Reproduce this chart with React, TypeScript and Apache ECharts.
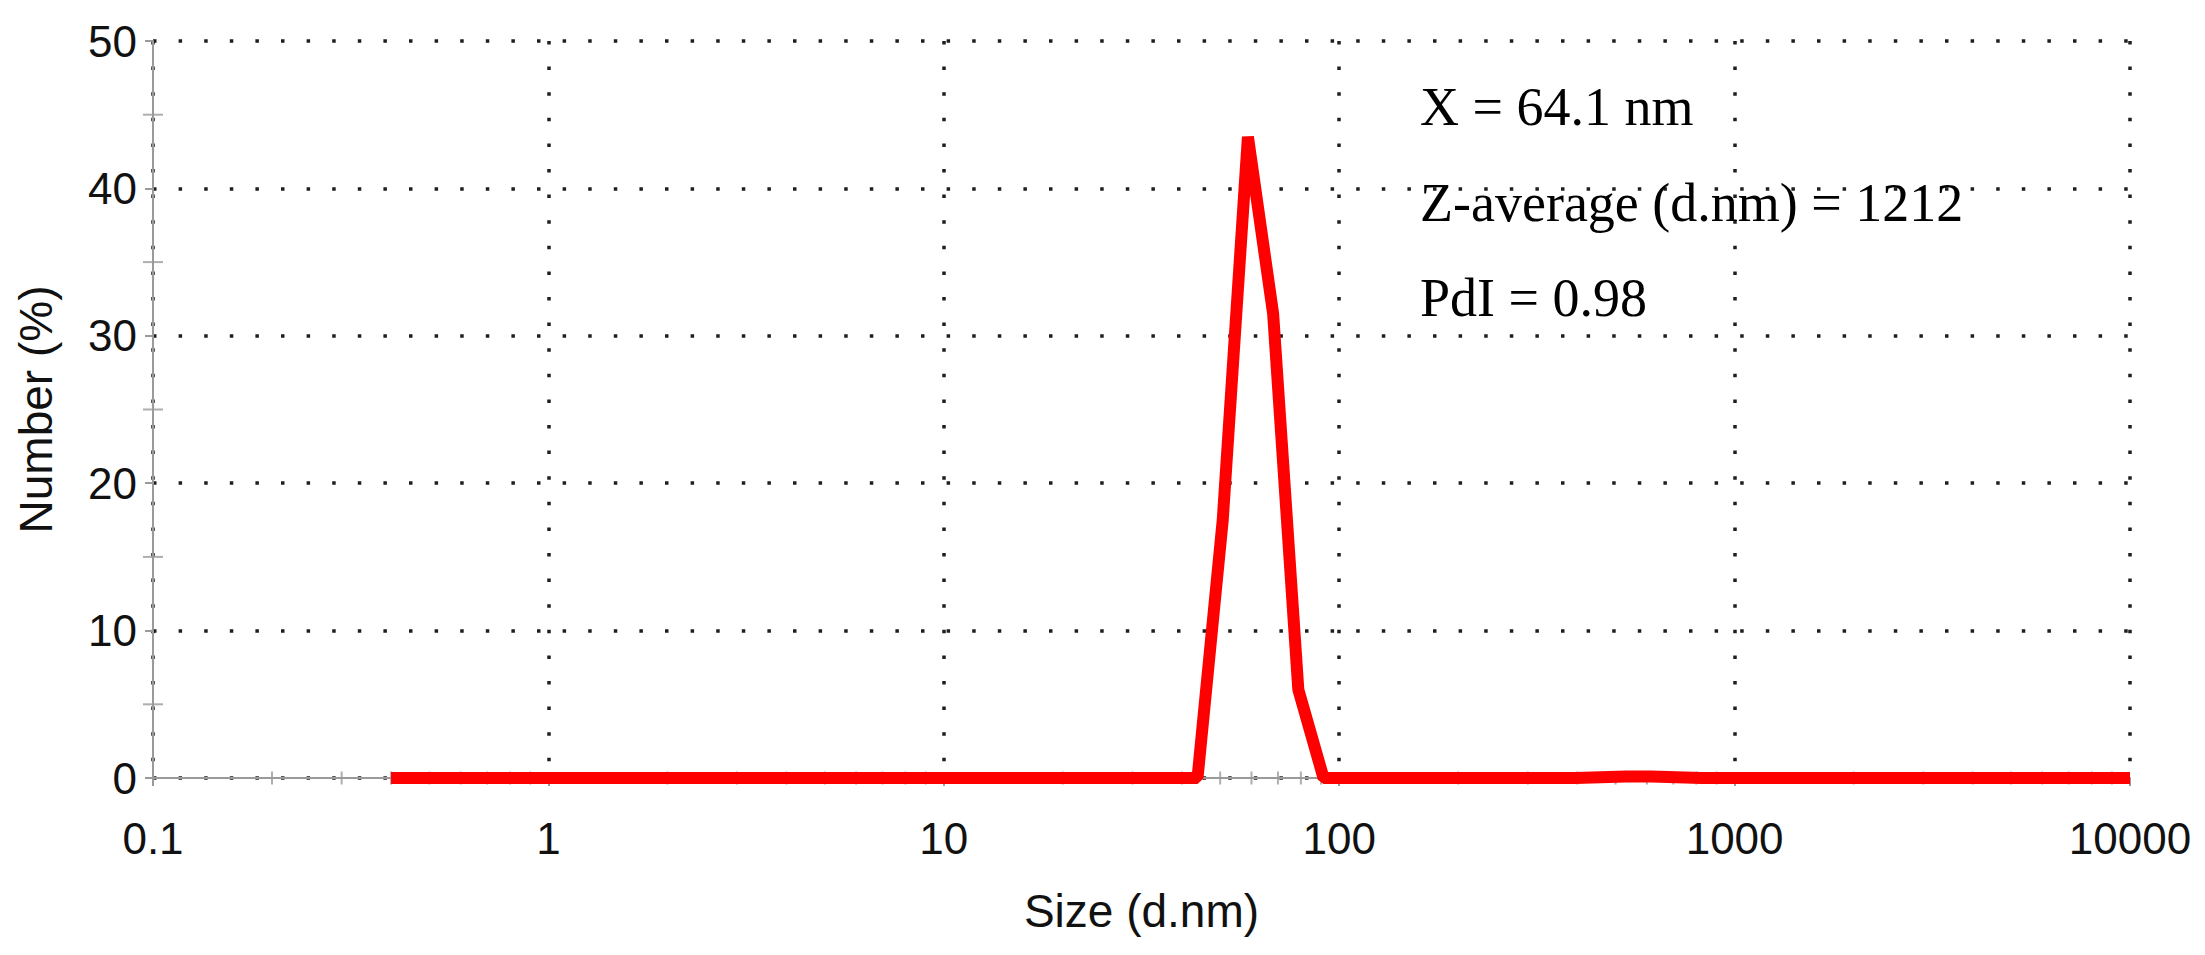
import React, { useEffect, useRef } from "react";
import * as echarts from "echarts";

// Size bins (d.nm) of the distribution
const SIZES = [
  0.4, 0.4632, 0.5365, 0.6213, 0.7195, 0.8332, 0.9649, 1.117, 1.294, 1.499,
  1.736, 2.01, 2.328, 2.696, 3.122, 3.615, 4.187, 4.849, 5.615, 6.503,
  7.531, 8.721, 10.1, 11.7, 13.54, 15.69, 18.17, 21.04, 24.36, 28.21,
  32.67, 37.84, 43.82, 50.75, 58.77, 68.06, 78.82, 91.28, 105.7, 122.4,
  141.8, 164.2, 190.1, 220.2, 255.0, 295.3, 342.0, 396.1, 458.7, 531.2,
  615.1, 712.4, 825.0, 955.4, 1106, 1281, 1484, 1718, 1990, 2305,
  2669, 3091, 3580, 4145, 4801, 5560, 6439, 7456, 8635, 10000,
];

// Number (%) for each bin
const NUMBERS = [
  0, 0, 0, 0, 0, 0, 0, 0, 0, 0,
  0, 0, 0, 0, 0, 0, 0, 0, 0, 0,
  0, 0, 0, 0, 0, 0, 0, 0, 0, 0,
  0, 0, 0, 17.5, 43.5, 31.5, 6, 0, 0, 0,
  0, 0, 0, 0, 0, 0, 0, 0, 0.05, 0.1,
  0.1, 0.05, 0, 0, 0, 0, 0, 0, 0, 0,
  0, 0, 0, 0, 0, 0, 0, 0, 0, 0,
];

// Minor tick positions
const X_MINOR = [
  0.2, 0.3, 0.4, 0.5, 0.6, 0.7, 0.8, 0.9,
  2, 3, 4, 5, 6, 7, 8, 9,
  20, 30, 40, 50, 60, 70, 80, 90,
  200, 300, 400, 500, 600, 700, 800, 900,
  2000, 3000, 4000, 5000, 6000, 7000, 8000, 9000,
];
const Y_MINOR = [5, 15, 25, 35, 45];

const NOTES = ["X = 64.1 nm", "Z-average (d.nm) = 1212", "PdI = 0.98"];

const X_TITLE = "Size (d.nm)";
const Y_TITLE = "Number (%)";

export default function App() {
  const ref = useRef<HTMLDivElement>(null);

  useEffect(() => {
    if (!ref.current) return;
    const chart = echarts.init(ref.current, null, { renderer: "svg" });
    const axisGray = "#9a9a9a";
    const dotted = { color: "#1e1e1e", width: 3.5, type: [3.5, 22.1] as any };
    const sans = "Liberation Sans";

    chart.setOption({
      animation: false,
      backgroundColor: "#ffffff",
      grid: { left: 153, right: 75, top: 41, bottom: 177 },
      xAxis: {
        type: "log",
        logBase: 10,
        min: 0.1,
        max: 10000,
        name: X_TITLE,
        nameLocation: "middle",
        nameGap: 110,
        nameTextStyle: { fontFamily: sans, fontSize: 46, color: "#111" },
        axisLine: { show: true, lineStyle: { color: axisGray, width: 2 } },
        axisTick: { show: true, length: 8, lineStyle: { color: axisGray, width: 2 } },
        minorTick: { show: false },
        axisLabel: {
          fontFamily: sans,
          fontSize: 44,
          color: "#111",
          margin: 38,
          formatter: (v: number) => String(+Number(v).toPrecision(6)),
        },
        splitLine: { show: true, lineStyle: dotted },
      },
      yAxis: {
        type: "value",
        min: 0,
        max: 50,
        interval: 10,
        name: Y_TITLE,
        nameLocation: "middle",
        nameGap: 94,
        nameTextStyle: { fontFamily: sans, fontSize: 46, color: "#111" },
        axisLine: { show: true, lineStyle: { color: axisGray, width: 2 } },
        axisTick: { show: true, length: 8, lineStyle: { color: axisGray, width: 2 } },
        axisLabel: {
          fontFamily: sans,
          fontSize: 44,
          color: "#111",
          margin: 16,
          padding: [10, 0, 0, 0],
        },
        splitLine: { show: true, lineStyle: dotted },
      },
      series: [
        {
          type: "scatter",
          data: X_MINOR.map((v) => [v, 0]),
          symbol: "rect",
          symbolSize: [2, 13],
          itemStyle: { color: axisGray },
          silent: true,
          clip: false,
          z: 1,
        },
        {
          type: "scatter",
          data: Y_MINOR.map((v) => [0.1, v]),
          symbol: "rect",
          symbolSize: [20, 2],
          itemStyle: { color: axisGray },
          silent: true,
          clip: false,
          z: 1,
        },
        {
          type: "line",
          data: SIZES.map((s, i) => [s, NUMBERS[i]]),
          symbol: "none",
          showSymbol: false,
          lineStyle: { color: "#ff0000", width: 12, join: "bevel" },
          z: 5,
        },
      ],
      graphic: NOTES.map((t, i) => ({
        type: "text",
        x: 1420,
        y: 107 + i * 95.5,
        style: {
          text: t,
          font: '54px "Liberation Serif"',
          fill: "#000",
          verticalAlign: "middle",
        },
        z: 10,
      })),
    });

    return () => chart.dispose();
  }, []);

  return (
    <div
      ref={ref}
      style={{ position: "fixed", left: 0, top: 0, width: 2205, height: 955, background: "#fff" }}
    />
  );
}
